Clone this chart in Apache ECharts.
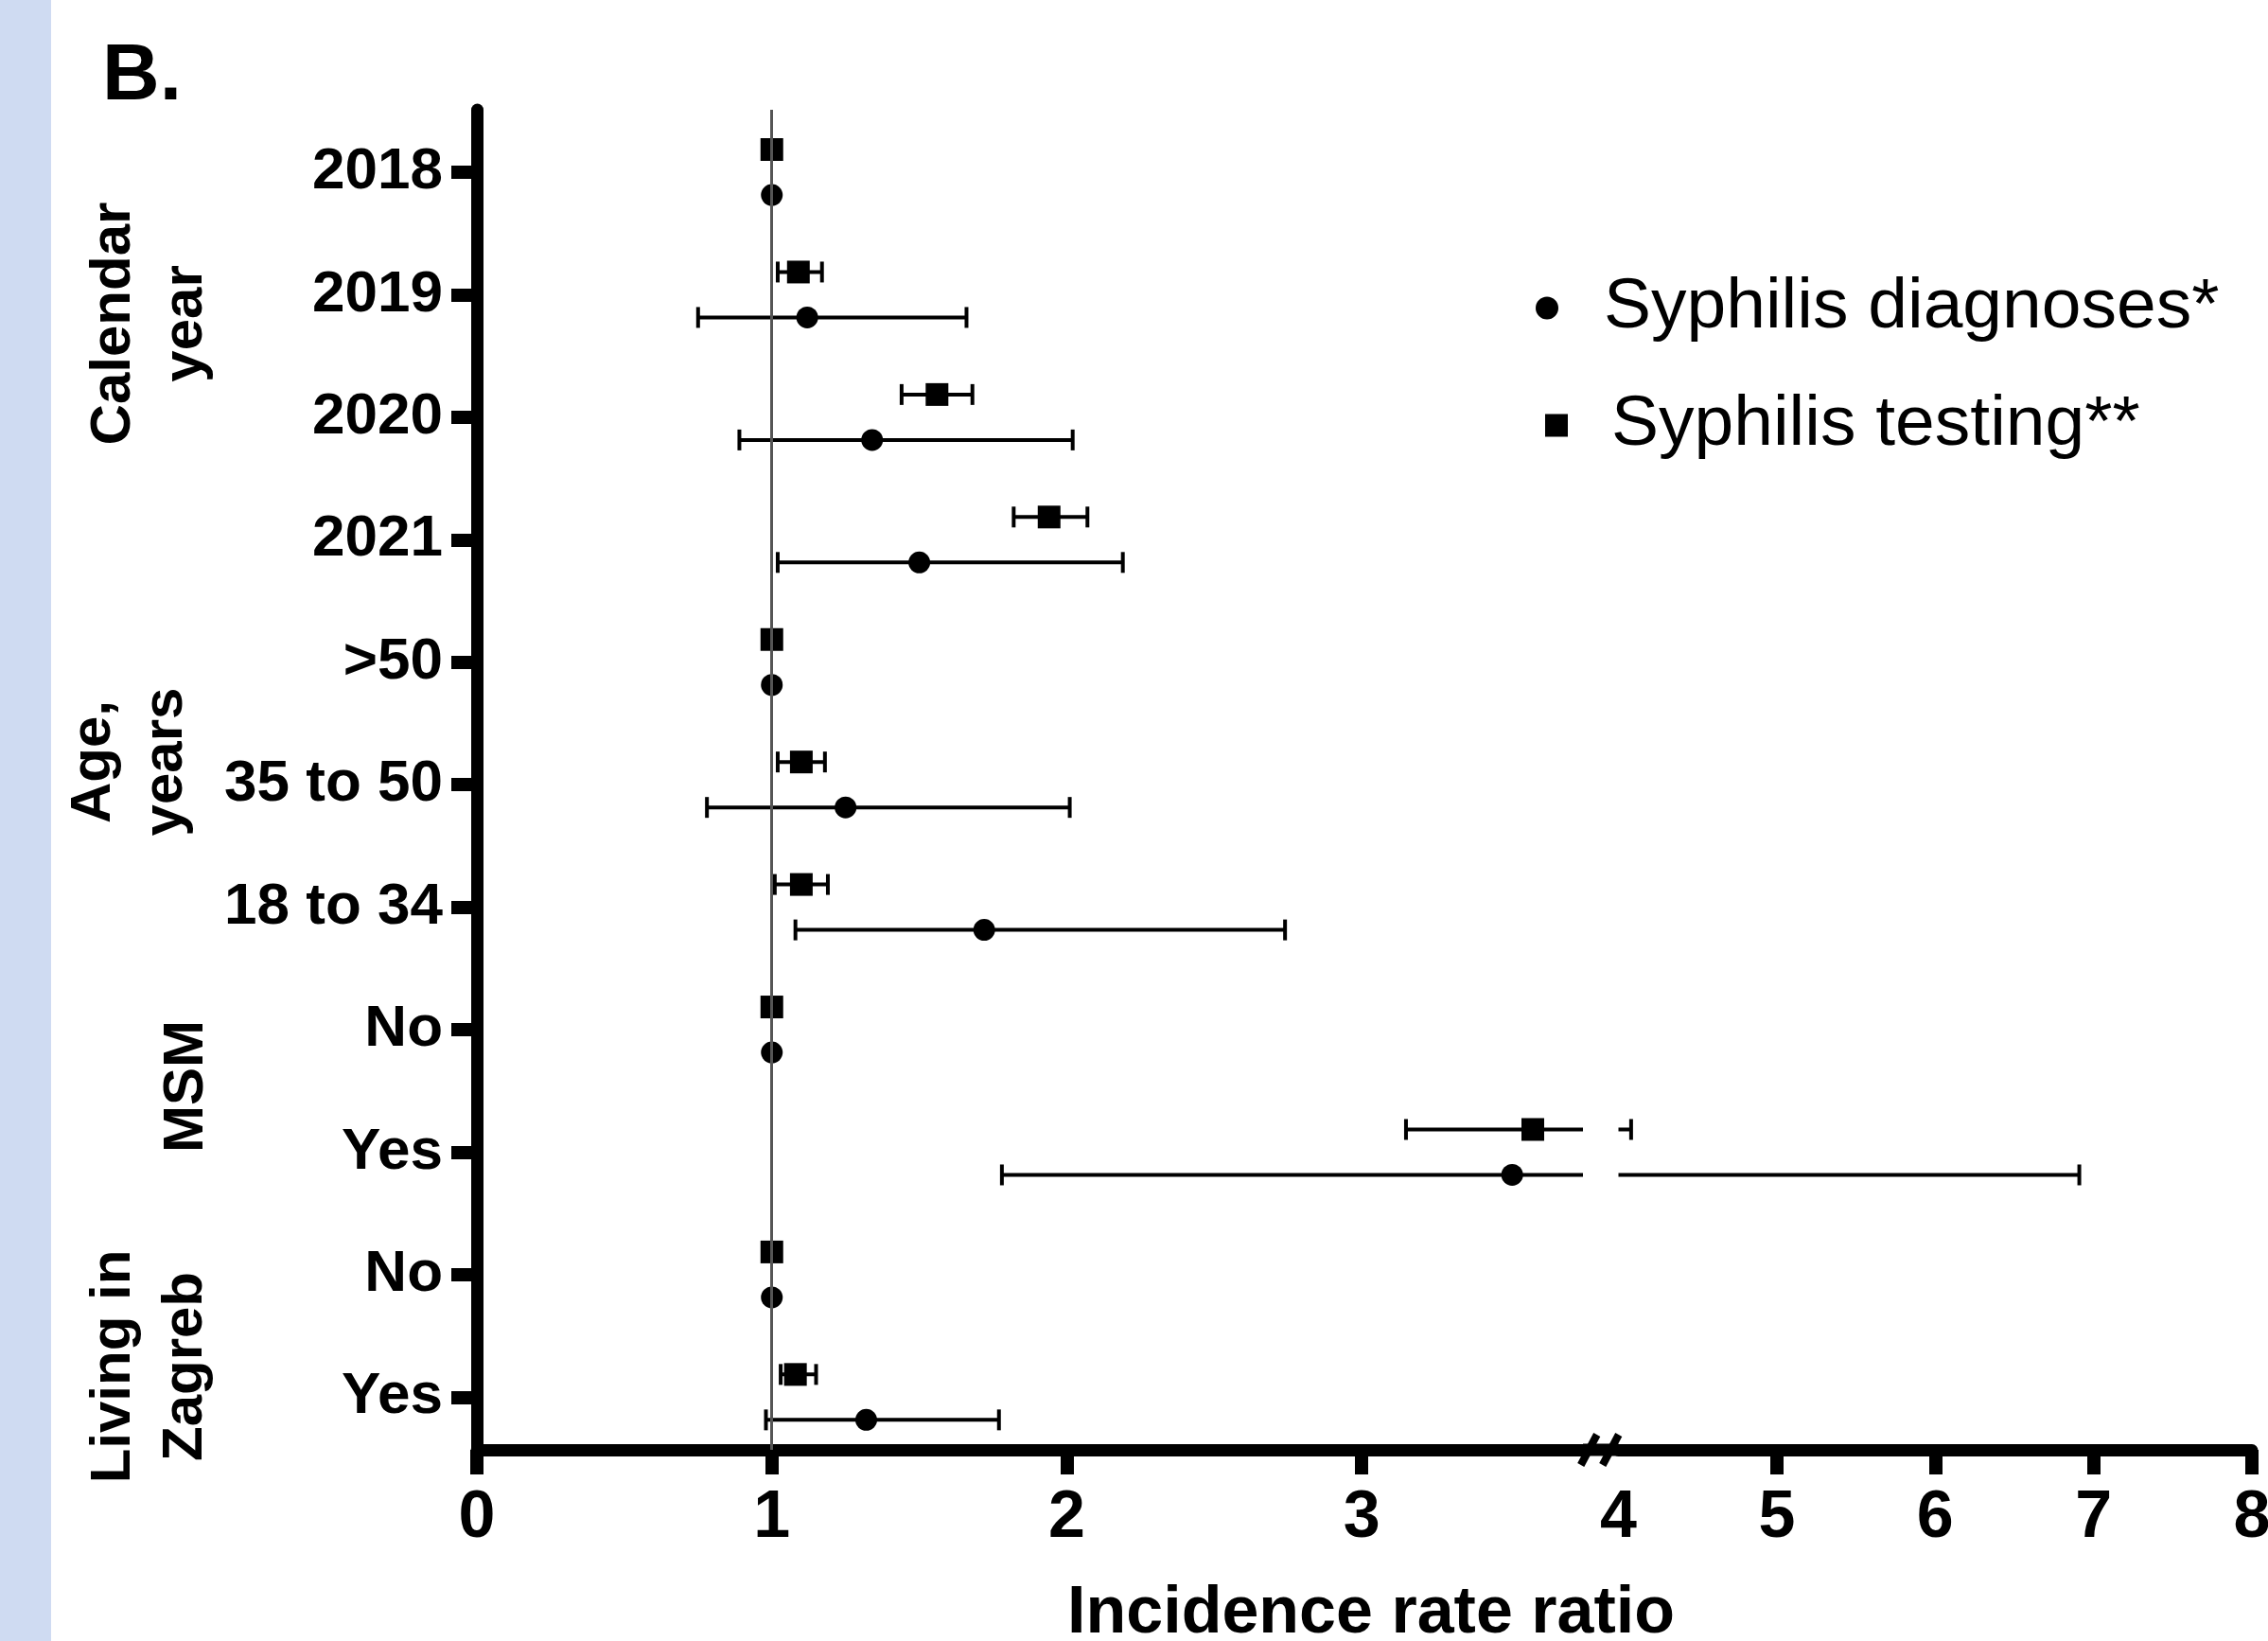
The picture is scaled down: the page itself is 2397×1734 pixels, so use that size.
<!DOCTYPE html>
<html>
<head>
<meta charset="utf-8">
<script src="https://cdn.jsdelivr.net/npm/echarts@6/dist/echarts.min.js"></script>
<style>
  html, body { margin: 0; padding: 0; background: #fff; }
  #chart { width: 2397px; height: 1734px; }
</style>
</head>
<body>
<div id="chart"></div>
<script>
// rows, top to bottom
const rowLabels = ['2018', '2019', '2020', '2021', '>50', '35 to 50', '18 to 34', 'No', 'Yes', 'No', 'Yes']

// Syphilis diagnoses* (circles)
const diagIRR = [1, 1.12, 1.34, 1.50, 1, 1.25, 1.72, 1, 3.51, 1, 1.32]
const diagLow = [1, 0.75, 0.89, 1.02, 1, 0.78, 1.08, 1, 1.78, 1, 0.98]
const diagHigh = [1, 1.66, 2.02, 2.19, 1, 2.01, 2.74, 1, 6.91, 1, 1.77]

// Syphilis testing** (squares)
const testIRR = [1, 1.09, 1.56, 1.94, 1, 1.10, 1.10, 1, 3.58, 1, 1.08]
const testLow = [1, 1.02, 1.44, 1.82, 1, 1.02, 1.01, 1, 3.15, 1, 1.03]
const testHigh = [1, 1.17, 1.68, 2.07, 1, 1.18, 1.19, 1, 4.08, 1, 1.15]

// x axis is broken: 0..3.75 then 4..8
const xTicksLeft = [0, 1, 2, 3]
const xTicksRight = [4, 5, 6, 7, 8]
const rowTicks = rowLabels.map((d, i) => i)

const groupLabels = ['Calendar\nyear', 'Age,\nyears', 'MSM', 'Living in\nZagreb']
const groupPos = [[158, 342], [137, 805], [197, 1148], [158, 1444]]

const FONT = '"Liberation Sans", Arial, Helvetica, sans-serif'
const DIAG = 'Syphilis diagnoses*'
const TEST = 'Syphilis testing**'

function rows(irr, low, high) {
  return irr.map((v, i) => [v, low[i], high[i], i])
}

// error bar + marker, clipped to its own grid
function forestItem(shape, dy) {
  return function(params, api) {
    const row = api.value(3)
    const mid = api.coord([api.value(0), row])
    const lo = api.coord([api.value(1), row])
    const hi = api.coord([api.value(2), row])
    const cs = params.coordSys
    const left = cs.x
    const right = cs.x + cs.width
    const y = mid[1] + dy
    const stroke = { stroke: '#000', lineWidth: 4 }
    const children = []
    const x0 = Math.max(lo[0], left)
    const x1 = Math.min(hi[0], right)
    if (x1 > x0) {
      children.push({ type: 'line', shape: { x1: x0, y1: y, x2: x1, y2: y }, style: stroke })
      if (lo[0] >= left - 0.5) {
        children.push({ type: 'line', shape: { x1: lo[0], y1: y - 11, x2: lo[0], y2: y + 11 }, style: stroke })
      }
      if (hi[0] <= right + 0.5) {
        children.push({ type: 'line', shape: { x1: hi[0], y1: y - 11, x2: hi[0], y2: y + 11 }, style: stroke })
      }
    }
    if (mid[0] >= left && mid[0] <= right) {
      if (shape === 'rect') {
        children.push({ type: 'rect', shape: { x: mid[0] - 12, y: y - 12, width: 24, height: 24 }, style: { fill: '#000' } })
      } else {
        children.push({ type: 'circle', shape: { cx: mid[0], cy: y, r: 11.5 }, style: { fill: '#000' } })
      }
    }
    return { type: 'group', children: children }
  }
}

function xAxisOf(gridIndex, min, max, ticks, labels) {
  return {
    type: 'value',
    gridIndex: gridIndex,
    position: 'bottom',
    min: min,
    max: max,
    axisLine: { onZero: false, lineStyle: { color: '#000', width: 13 } },
    axisTick: { customValues: ticks, length: 26, lineStyle: { color: '#000', width: 14 } },
    axisLabel: {
      customValues: labels,
      margin: 38,
      color: '#000',
      fontSize: 70,
      fontWeight: 'bold',
      fontFamily: FONT
    },
    splitLine: { show: false }
  }
}

function yAxisOf(gridIndex, visible) {
  return {
    type: 'value',
    gridIndex: gridIndex,
    inverse: true,
    min: -0.51,
    max: 10.43,
    show: visible,
    axisLine: { show: true, onZero: false, lineStyle: { color: '#000', width: 13 } },
    axisTick: { show: true, customValues: rowTicks, length: 27, lineStyle: { color: '#000', width: 14 } },
    axisLabel: {
      customValues: rowTicks,
      margin: 36,
      color: '#000',
      fontSize: 62,
      fontWeight: 'bold',
      fontFamily: FONT,
      formatter: function(v) { return rowLabels[Math.round(v)] }
    },
    splitLine: { show: false }
  }
}

function legendOf(name, icon, left, top, w) {
  return {
    data: [{ name: name, icon: icon }],
    left: left,
    top: top,
    itemWidth: w,
    itemHeight: 24,
    selectedMode: false,
    textStyle: { color: '#000', fontSize: 75, fontFamily: FONT }
  }
}

const chart = echarts.init(document.getElementById('chart'))

chart.setOption({
  animation: false,
  backgroundColor: '#fff',
  textStyle: { fontFamily: FONT },
  grid: [
    { left: 504, top: 116, width: 1169, height: 1416, outerBoundsMode: 'none', containLabel: false },
    { left: 1710.5, top: 116, width: 669.5, height: 1416, outerBoundsMode: 'none', containLabel: false }
  ],
  xAxis: [
    xAxisOf(0, 0, 3.75, xTicksLeft, xTicksLeft),
    xAxisOf(1, 4, 8, xTicksRight.slice(1), xTicksRight)
  ],
  yAxis: [yAxisOf(0, true), yAxisOf(1, false)],
  legend: [
    legendOf(DIAG, 'circle', 1618, 283, 110),
    legendOf(TEST, 'path://M0,0H10V10H0Z', 1628, 407, 106)
  ],
  series: [
    {
      type: 'line',
      xAxisIndex: 0,
      yAxisIndex: 0,
      data: [],
      z: 1,
      markLine: {
        silent: true,
        symbol: 'none',
        label: { show: false },
        lineStyle: { color: '#555', width: 3, type: 'solid' },
        data: [{ xAxis: 1 }]
      }
    },
    {
      name: DIAG, type: 'custom', xAxisIndex: 0, yAxisIndex: 0, z: 3,
      itemStyle: { color: '#000' },
      encode: { x: [0, 1, 2], y: 3 },
      renderItem: forestItem('circle', 24),
      data: rows(diagIRR, diagLow, diagHigh)
    },
    {
      name: DIAG, type: 'custom', xAxisIndex: 1, yAxisIndex: 1, z: 3,
      itemStyle: { color: '#000' },
      encode: { x: [0, 1, 2], y: 3 },
      renderItem: forestItem('circle', 24),
      data: rows(diagIRR, diagLow, diagHigh)
    },
    {
      name: TEST, type: 'custom', xAxisIndex: 0, yAxisIndex: 0, z: 3,
      itemStyle: { color: '#000' },
      encode: { x: [0, 1, 2], y: 3 },
      renderItem: forestItem('rect', -24),
      data: rows(testIRR, testLow, testHigh)
    },
    {
      name: TEST, type: 'custom', xAxisIndex: 1, yAxisIndex: 1, z: 3,
      itemStyle: { color: '#000' },
      encode: { x: [0, 1, 2], y: 3 },
      renderItem: forestItem('rect', -24),
      data: rows(testIRR, testLow, testHigh)
    }
  ]
})

// decorations: side stripe, panel letter, group titles, axis title, axis break
const gapL = chart.convertToPixel({ xAxisIndex: 0 }, 3.75)
const gapR = chart.convertToPixel({ xAxisIndex: 1 }, 4)
const axisY = chart.convertToPixel({ yAxisIndex: 0 }, 10.43)
const m = (gapL + gapR) / 2

const graphics = [
  { type: 'rect', left: 0, top: 0, shape: { width: 54, height: 1734 }, style: { fill: '#cfdbf2' }, z: 0 },
  { type: 'text', x: 108, y: 82, style: { text: 'B.', font: 'bold 84px ' + FONT, fill: '#000', align: 'left', verticalAlign: 'middle' } },
  { type: 'text', x: 1449, y: 1706, style: { text: 'Incidence rate ratio', font: 'bold 70px ' + FONT, fill: '#000', align: 'center', verticalAlign: 'middle' } },
  { type: 'line', shape: { x1: gapL, y1: axisY, x2: gapR, y2: axisY }, style: { stroke: '#000', lineWidth: 13 }, z: 10 },
  { type: 'line', shape: { x1: m - 21, y1: axisY + 16, x2: m - 4, y2: axisY - 16 }, style: { stroke: '#000', lineWidth: 8 }, z: 10 },
  { type: 'line', shape: { x1: m + 2, y1: axisY + 16, x2: m + 19, y2: axisY - 16 }, style: { stroke: '#000', lineWidth: 8 }, z: 10 }
]
groupLabels.forEach(function(t, i) {
  graphics.push({
    type: 'text',
    x: groupPos[i][0],
    y: groupPos[i][1],
    rotation: Math.PI / 2,
    style: { text: t, font: 'bold 60px ' + FONT, fill: '#000', align: 'center', verticalAlign: 'middle', lineHeight: 76 }
  })
})

chart.setOption({ graphic: graphics })
</script>
</body>
</html>
